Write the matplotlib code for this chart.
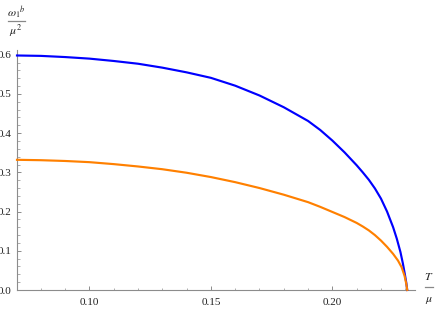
import matplotlib
matplotlib.use("Agg")
import matplotlib.pyplot as plt
from matplotlib.ticker import MultipleLocator, FixedLocator

T_blue = [0.0702, 0.080, 0.090, 0.100, 0.110, 0.120, 0.130, 0.140, 0.150, 0.160,
          0.170, 0.180, 0.190, 0.195, 0.200, 0.205, 0.210, 0.2125, 0.215, 0.2175,
          0.220, 0.2225, 0.225, 0.2265, 0.228, 0.229, 0.2298, 0.2304, 0.2308]
omega_blue = [0.598, 0.597, 0.594, 0.590, 0.584, 0.577, 0.567, 0.555, 0.541, 0.521,
              0.496, 0.466, 0.431, 0.408, 0.381, 0.351, 0.318, 0.300, 0.281, 0.259,
              0.233, 0.200, 0.160, 0.131, 0.097, 0.068, 0.041, 0.019, 0.0]

T_orange = [0.0702, 0.080, 0.090, 0.100, 0.110, 0.120, 0.130, 0.140, 0.150, 0.160,
            0.170, 0.180, 0.190, 0.195, 0.200, 0.205, 0.210, 0.2125, 0.215, 0.2175,
            0.220, 0.2225, 0.225, 0.227, 0.2285, 0.2297, 0.2304, 0.2308]
omega_orange = [0.332, 0.331, 0.329, 0.326, 0.321, 0.315, 0.308, 0.299, 0.288, 0.275,
                0.260, 0.243, 0.224, 0.212, 0.199, 0.186, 0.171, 0.162, 0.152, 0.140,
                0.126, 0.110, 0.092, 0.075, 0.058, 0.036, 0.016, 0.0]

x_major = [0.10, 0.15, 0.20]
x_labels = ["0.10", "0.15", "0.20"]
y_major = [0.0, 0.1, 0.2, 0.3, 0.4, 0.5, 0.6]
y_labels = ["0.0", "0.1", "0.2", "0.3", "0.4", "0.5", "0.6"]

plt.rcParams['mathtext.fontset'] = 'stix'
serif = ['Liberation Serif', 'DejaVu Serif']

fig = plt.figure(figsize=(4.36, 3.09), dpi=100)
ax = fig.add_axes([17/436, 19/309, (415-17)/436, (290-50)/309])

ax.plot(T_blue, omega_blue, color=(0, 0, 1), lw=1.55, clip_on=False, zorder=3,
        solid_joinstyle='round')
ax.plot(T_orange, omega_orange, color=(1, 0.5, 0), lw=1.55, clip_on=False, zorder=4,
        solid_joinstyle='round')

ax.set_xlim(0.0702, 0.234)
ax.set_ylim(0.0, 0.612)

for s in ['top', 'right']:
    ax.spines[s].set_visible(False)
for s in ['left', 'bottom']:
    ax.spines[s].set_color('#8c8c8c')
    ax.spines[s].set_linewidth(0.8)

ax.xaxis.set_major_locator(FixedLocator(x_major))
ax.set_xticklabels(x_labels)
ax.xaxis.set_minor_locator(MultipleLocator(0.01))
ax.yaxis.set_major_locator(FixedLocator(y_major))
ax.set_yticklabels(y_labels)
ax.yaxis.set_minor_locator(MultipleLocator(0.02))

ax.tick_params(which='major', direction='in', length=3.2, width=0.7, color='#8c8c8c',
               labelsize=8, labelcolor='#222222', pad=4)
ax.tick_params(which='minor', direction='in', length=1.8, width=0.6, color='#a0a0a0')
ax.tick_params(axis='x', which='major', pad=6)
ax.tick_params(axis='y', which='major', pad=4)
for lab in ax.get_xticklabels() + ax.get_yticklabels():
    lab.set_family(serif)

# y-axis label (fraction) at top-left
fig.text(16/436, 1 - 13/309, r'$\omega_1{}^b$', ha='center', va='center', fontsize=8.5,
         color='#222222')
fig.add_artist(plt.Line2D([8/436, 25/436], [1 - 21/309, 1 - 21/309], color='#888888', lw=0.9))
fig.text(16/436, 1 - 31/309, r'$\mu^2$', ha='center', va='center', fontsize=8.5,
         color='#222222')

# x-axis label (fraction) at right
fig.text(429/436, 1 - 277/309, r'$T$', ha='center', va='center', fontsize=8.5,
         color='#222222')
fig.add_artist(plt.Line2D([425/436, 433/436], [1 - 287/309, 1 - 287/309], color='#888888', lw=0.9))
fig.text(429/436, 1 - 299/309, r'$\mu$', ha='center', va='center', fontsize=8.5,
         color='#222222')

fig.savefig('out.png', dpi=100)
